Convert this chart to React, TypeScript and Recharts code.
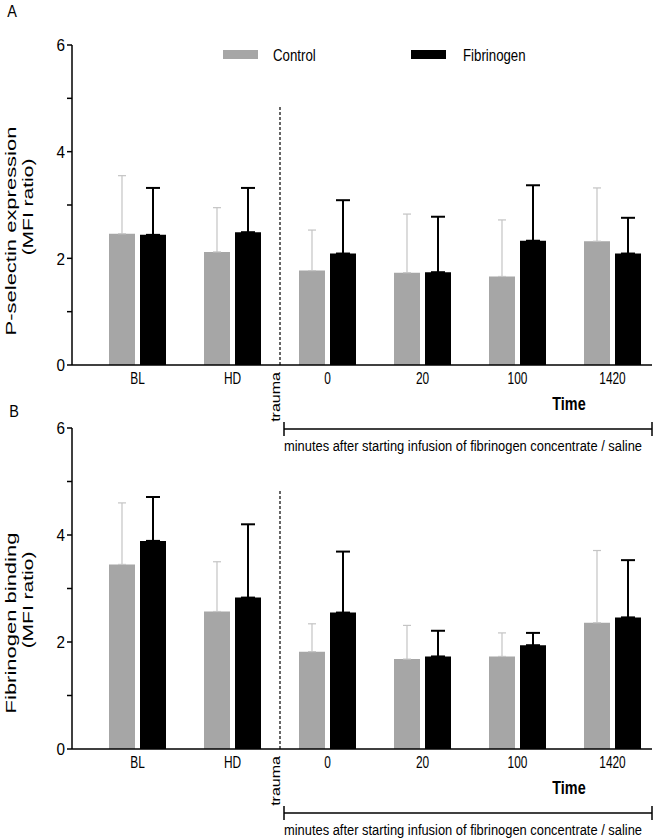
import { Bar, BarChart, ErrorBar, Legend, ReferenceLine, XAxis, YAxis } from 'recharts'

const TIMEPOINTS = ['BL', 'HD', '0', '20', '100', '1420']
const Y_TICKS = [0, 1, 2, 3, 4, 5, 6]

// Panel A: P-selectin expression (MFI ratio), mean and SD (drawn upwards only)
const PSEL_CONTROL = [2.46, 2.12, 1.77, 1.73, 1.66, 2.32]
const PSEL_CONTROL_SD = [1.09, 0.83, 0.76, 1.1, 1.06, 1.0]
const PSEL_FIB = [2.44, 2.49, 2.09, 1.74, 2.33, 2.09]
const PSEL_FIB_SD = [0.88, 0.83, 1.0, 1.04, 1.04, 0.67]

// Panel B: fibrinogen binding (MFI ratio)
const FGB_CONTROL = [3.45, 2.57, 1.82, 1.68, 1.73, 2.36]
const FGB_CONTROL_SD = [1.15, 0.93, 0.52, 0.63, 0.44, 1.35]
const FGB_FIB = [3.89, 2.83, 2.55, 1.73, 1.94, 2.46]
const FGB_FIB_SD = [0.82, 1.37, 1.14, 0.48, 0.23, 1.07]

const GREY = '#a6a6a6'
const GREY_ERR = '#c4c4c4'
const FONT = 'Arial, "Liberation Sans", sans-serif'

function rows(control: number[], controlSd: number[], fib: number[], fibSd: number[]) {
  return TIMEPOINTS.map((time, i) => ({
    time,
    control: control[i],
    controlErr: [0, controlSd[i]],
    fib: fib[i],
    fibErr: [0, fibSd[i]],
  }))
}

// the original figure is squeezed horizontally, so text gets a scale too
function Squeezed({
  x, y, size = 17, scale = 0.75, anchor = 'middle', weight, rotate = false, children,
}: {
  x: number
  y: number
  size?: number
  scale?: number
  anchor?: 'start' | 'middle' | 'end'
  weight?: string
  rotate?: boolean
  children: React.ReactNode
}) {
  const transform = rotate
    ? `translate(${x},${y}) rotate(-90) scale(1,${scale})`
    : `translate(${x},${y}) scale(${scale},1)`
  return (
    <text
      transform={transform}
      fontFamily={FONT}
      fontSize={size}
      fontWeight={weight}
      textAnchor={anchor}
      dominantBaseline="central"
      fill="#000"
    >
      {children}
    </text>
  )
}

const xTick = ({ x, y, payload }: any) => (
  <Squeezed x={x} y={y + 13} scale={0.7}>{payload.value}</Squeezed>
)

const yTick = ({ x, y, payload }: any) =>
  payload.value % 2 === 0 ? (
    <Squeezed x={x} y={y} anchor="end" scale={0.9}>{payload.value}</Squeezed>
  ) : (
    <g />
  )

const legendRow = ({ payload }: any) => (
  <svg width={660} height={30}>
    {(payload ?? []).map((p: any, i: number) => (
      <g key={p.value}>
        <rect x={223 + i * 188} y={10} width={35} height={9} fill={p.color} />
        <Squeezed x={273 + i * 190} y={15} anchor="start" scale={0.78}>{p.value}</Squeezed>
      </g>
    ))}
  </svg>
)

function Panel({
  data, height, marginTop, marginBottom, legend = false,
}: {
  data: ReturnType<typeof rows>
  height: number
  marginTop: number
  marginBottom: number
  legend?: boolean
}) {
  return (
    <BarChart
      width={660}
      height={height}
      data={data}
      margin={{ top: marginTop, right: 8, bottom: marginBottom, left: 0 }}
      barGap={5}
    >
      <XAxis
        dataKey="time"
        height={30}
        interval={0}
        tickLine={false}
        tickSize={0}
        tickMargin={0}
        axisLine={{ stroke: '#000', strokeWidth: 1.5 }}
        padding={{ left: 18, right: -8 }}
        tick={xTick}
      />
      <YAxis
        width={72}
        domain={[0, 6]}
        ticks={Y_TICKS}
        interval={0}
        tickSize={5}
        tickMargin={2}
        axisLine={{ stroke: '#000', strokeWidth: 1.5 }}
        tickLine={{ stroke: '#000', strokeWidth: 1.5 }}
        tick={yTick}
      />
      {legend && (
        <Legend
          layout="vertical"
          align="center"
          verticalAlign="middle"
          wrapperStyle={{ top: 40, left: 0, width: 660, height: 30 }}
          content={legendRow}
        />
      )}
      <ReferenceLine
        segment={[{ x: 'HD', y: 0 }, { x: 'HD', y: 4.85 }]}
        position="end"
        stroke="#000"
        strokeWidth={1.2}
        strokeDasharray="3 2"
      />
      <Bar dataKey="control" name="Control" fill={GREY} barSize={26} isAnimationActive={false}>
        <ErrorBar dataKey="controlErr" width={4} stroke={GREY_ERR} strokeWidth={1.2} isAnimationActive={false} />
      </Bar>
      <Bar dataKey="fib" name="Fibrinogen" fill="#000" barSize={26} isAnimationActive={false}>
        <ErrorBar dataKey="fibErr" width={7} stroke="#000" strokeWidth={2} isAnimationActive={false} />
      </Bar>
    </BarChart>
  )
}

function Annotations({ axisY }: { axisY: number }) {
  const bracketY = axisY + 64
  return (
    <g>
      <Squeezed x={276} y={axisY + 32} rotate size={16} scale={0.75}>trauma</Squeezed>
      <Squeezed x={569} y={axisY + 38} weight="bold" size={18} scale={0.8}>Time</Squeezed>
      <g stroke="#000" strokeWidth={1.5}>
        <line x1={284} y1={bracketY} x2={652} y2={bracketY} />
        <line x1={284} y1={bracketY - 7} x2={284} y2={bracketY + 7} />
        <line x1={652} y1={bracketY - 7} x2={652} y2={bracketY + 7} />
      </g>
      <Squeezed x={284} y={bracketY + 17} anchor="start" scale={0.86} size={15}>
        minutes after starting infusion of fibrinogen concentrate / saline
      </Squeezed>
    </g>
  )
}

export default function App() {
  const pselectin = rows(PSEL_CONTROL, PSEL_CONTROL_SD, PSEL_FIB, PSEL_FIB_SD)
  const binding = rows(FGB_CONTROL, FGB_CONTROL_SD, FGB_FIB, FGB_FIB_SD)

  return (
    <div style={{ position: 'absolute', left: 0, top: 0, width: 660, height: 840, background: '#fff', overflow: 'hidden' }}>
      <div style={{ position: 'absolute', left: 0, top: 0 }}>
        <Panel data={pselectin} height={400} marginTop={45} marginBottom={5} legend />
      </div>
      <div style={{ position: 'absolute', left: 0, top: 400 }}>
        <Panel data={binding} height={400} marginTop={28} marginBottom={21} />
      </div>
      <svg width={660} height={840} style={{ position: 'absolute', left: 0, top: 0, pointerEvents: 'none' }}>
        <Squeezed x={12} y={11} scale={0.85}>A</Squeezed>
        <Squeezed x={14} y={411} scale={0.85}>B</Squeezed>

        <Squeezed x={11} y={231} rotate size={22} scale={0.7}>P-selectin expression</Squeezed>
        <Squeezed x={28} y={207} rotate size={21} scale={0.7}>(MFI ratio)</Squeezed>
        <Squeezed x={11} y={623} rotate size={22} scale={0.7}>Fibrinogen binding</Squeezed>
        <Squeezed x={28} y={600} rotate size={21} scale={0.7}>(MFI ratio)</Squeezed>

        <Annotations axisY={365} />
        <Annotations axisY={749} />
      </svg>
    </div>
  )
}
